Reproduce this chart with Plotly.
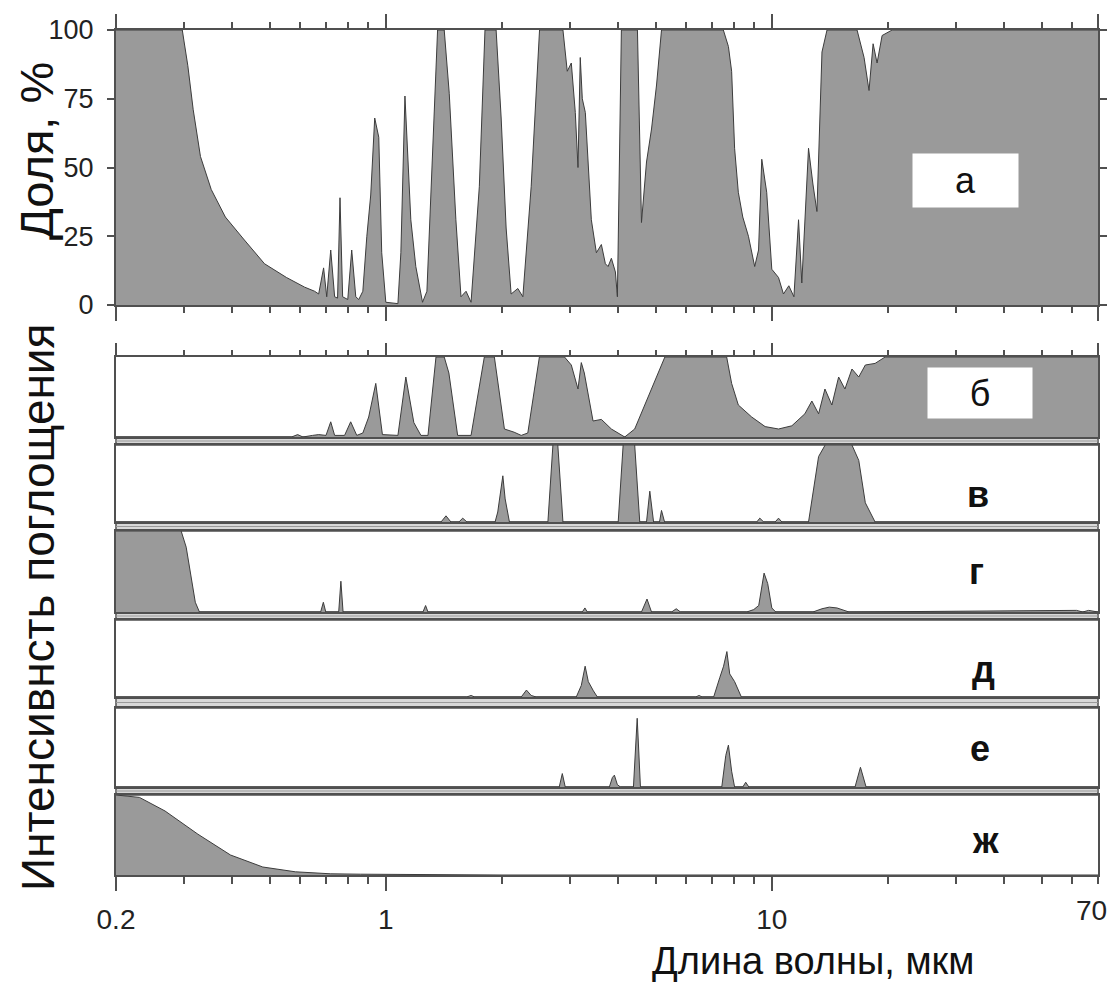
import math
import plotly.graph_objects as go

# ---------------- data (wavelength in micrometres, values in %) ----------------
# (а) total atmospheric absorption, %
wl_a = [0.20, 0.297, 0.300, 0.307, 0.317, 0.331, 0.353, 0.384, 0.428, 0.485, 0.553,
        0.616, 0.654, 0.670, 0.690, 0.703, 0.720, 0.737, 0.750, 0.761, 0.773, 0.797,
        0.816, 0.836, 0.851, 0.872, 0.893, 0.914, 0.936, 0.959, 0.976, 1.0, 1.075,
        1.094, 1.121, 1.161, 1.196, 1.245, 1.278, 1.322, 1.362, 1.417, 1.46, 1.519,
        1.566, 1.614, 1.663, 1.747, 1.807, 1.931, 1.99, 2.05, 2.112, 2.198, 2.265,
        2.38, 2.502, 2.877, 2.952, 3.024, 3.097, 3.147, 3.19, 3.229, 3.288, 3.408,
        3.512, 3.618, 3.706, 3.766, 3.841, 3.934, 3.981, 4.077, 4.487, 4.596, 4.736,
        4.88, 5.028, 5.179, 7.49, 7.72, 7.87, 8.01, 8.19, 8.41, 8.70, 9.03, 9.24,
        9.42, 9.70, 10.0, 10.41, 10.72, 11.07, 11.41, 11.73, 11.96, 12.45, 12.78,
        13.09, 13.49, 13.9, 16.63, 17.34, 17.86, 18.3, 18.74, 19.31, 20.5, 70.0]
val_a = [100, 100, 96, 87, 71, 54, 42, 32, 24, 15, 10,
         6.5, 5, 4, 13.5, 3, 20, 3, 2.5, 39, 3, 2,
         20, 3, 2, 5, 25, 40, 68, 61, 19, 1, 0.5,
         19, 76, 31, 14, 1, 5, 55, 100, 100, 77, 31,
         3, 5, 1, 43, 100, 100, 68, 28, 4, 6, 3,
         43, 100, 100, 85, 88, 70, 50, 90, 75, 70, 31,
         19, 22, 15, 14, 17, 12, 3, 100, 100, 30, 52,
         64, 80, 100, 100, 94, 85, 57, 41, 32, 25, 14, 20,
         53, 41, 13, 10, 4, 7, 3, 31, 8, 57, 44,
         34, 92, 100, 100, 90, 78, 95, 88, 98, 100, 100]

# (б) H2O
wl_b = [0.20, 0.57, 0.591, 0.61, 0.646, 0.670, 0.70, 0.72, 0.737, 0.75, 0.782, 0.811,
        0.841, 0.872, 0.903, 0.942, 0.98, 1.075, 1.127, 1.182, 1.233, 1.286, 1.349,
        1.417, 1.457, 1.535, 1.663, 1.80, 1.911, 2.029, 2.15, 2.243, 2.333, 2.50,
        2.904, 3.024, 3.147, 3.21, 3.268, 3.443, 3.618, 3.841, 4.159, 4.414, 4.783,
        5.078, 5.284, 7.64, 7.87, 8.19, 8.87, 9.61, 10.41, 11.27, 12.18, 12.70,
        13.22, 13.73, 14.31, 14.90, 15.47, 16.13, 16.80, 17.47, 18.52, 19.66, 70.0]
val_b = [0, 0, 3, 0, 2, 3, 2, 19, 2, 2, 2, 19,
         2, 5, 25, 67, 3, 2, 75, 18, 2, 2, 100,
         100, 80, 2, 2, 100, 100, 10, 6, 2, 5, 100,
         100, 90, 60, 93, 80, 20, 22, 10, 0, 10, 50,
         80, 100, 100, 67, 40, 25, 13, 10, 14, 29, 45,
         29, 60, 40, 75, 60, 85, 75, 90, 92, 100, 100]

# (в) CO2
wl_c = [0.20, 1.39, 1.432, 1.475, 1.547, 1.582, 1.623, 1.919, 1.95, 2.01, 2.038,
        2.091, 2.63, 2.71, 2.79, 2.877, 4.0, 4.12, 4.414, 4.549, 4.736, 4.83, 4.94,
        5.118, 5.179, 5.275, 9.14, 9.31, 9.53, 10.2, 10.41, 10.62, 12.45, 13.22,
        13.75, 16.13, 16.80, 17.47, 18.52, 70.0]
val_c = [0, 0, 8, 0, 0, 5, 0, 0, 13, 60, 30,
         0, 0, 100, 100, 0, 0, 100, 100, 0, 0, 40, 0,
         0, 15, 0, 0, 5, 0, 0, 5, 0, 0, 85,
         100, 100, 80, 25, 0, 0]

# (г) O2 and O3
wl_d = [0.20, 0.295, 0.304, 0.313, 0.321, 0.329, 0.678, 0.689, 0.699, 0.755, 0.765,
        0.775, 1.248, 1.268, 1.286, 3.229, 3.28, 3.327, 4.596, 4.75, 4.88, 5.50,
        5.655, 5.80, 8.61, 8.98, 9.25, 9.55, 9.76, 10.0, 10.24, 12.78, 13.49, 14.09,
        14.75, 15.85, 61.6, 63.9, 66.2, 70.0]
val_d = [100, 100, 80, 45, 12, 0, 0, 12, 0, 0, 38,
         0, 0, 8, 0, 0, 5, 0, 0, 16, 0, 0,
         4, 0, 0, 3, 8, 48, 35, 5, 0, 0, 4, 6,
         5, 0, 2, 0, 2, 0]

# (д) CH4
wl_e = [0.20, 1.62, 1.663, 1.70, 2.243, 2.314, 2.38, 2.453, 3.115, 3.21, 3.284,
        3.347, 3.45, 3.533, 6.35, 6.48, 6.60, 7.07, 7.33, 7.50, 7.65, 7.78, 8.01,
        8.34, 70.0]
val_e = [0, 0, 2, 0, 0, 9, 2, 0, 0, 15, 40,
         20, 8, 0, 0, 2, 0, 0, 25, 40, 59, 30, 20,
         0, 0]

# (е) N2O
wl_f = [0.20, 2.814, 2.866, 2.917, 3.795, 3.864, 3.91, 3.98, 4.054, 4.381, 4.48,
        4.568, 7.42, 7.60, 7.72, 7.87, 8.01, 8.41, 8.56, 8.72, 16.43, 16.97, 17.55,
        70.0]
val_f = [0, 0, 17, 0, 0, 12, 15, 3, 0, 0, 87,
         0, 0, 40, 53, 20, 0, 0, 6, 0, 0, 25, 0,
         0]

# (ж) Rayleigh scattering
wl_g = [0.20, 0.23, 0.268, 0.326, 0.396, 0.48, 0.583, 0.72, 0.86, 1.233, 2.0, 70.0]
val_g = [100, 97, 80, 51, 25, 10, 4, 1.5, 1, 0.3, 0, 0]

panel_labels = ["а", "б", "в", "г", "д", "е", "ж"]
major_ticks = [0.2, 1, 10, 70]
major_text = ["0.2", "1", "10", "70"]
minor_ticks = [0.3, 0.4, 0.5, 0.6, 0.7, 0.8, 0.9, 2, 3, 4, 5, 6, 7, 8, 9,
               20, 30, 40, 50, 60]
y_ticks_a = [0, 25, 50, 75, 100]

# ---------------- layout helpers ----------------
OFF = 8                      # body margin of the html page
W, H = 1118 - 2 * OFF, 993 - 2 * OFF + 1   # figure fits the window without scrollbars
def px(x):
    return (x - OFF) / W
def py(y):
    return 1 - (y - OFF) / H

X_DOM = [px(116), px(1098)]
XR = [math.log10(0.2), math.log10(70)]
FILL = "#9a9a9a"
LINE = "#3c3c3c"
AX = "#505050"
FONT = "Liberation Sans, Arial"
TICK_SIZE = 28

# pixel extents (top, bottom) of every panel
rows = [(30, 305), (357, 437), (445, 522), (531, 612), (620, 697), (708, 787), (795, 875)]
series = [(wl_a, val_a), (wl_b, val_b), (wl_c, val_c), (wl_d, val_d),
          (wl_e, val_e), (wl_f, val_f), (wl_g, val_g)]

fig = go.Figure()
for i, (wl, vals) in enumerate(series):
    n = "" if i == 0 else str(i + 1)
    fig.add_trace(go.Scatter(x=wl, y=vals, xaxis="x" + n, yaxis="y" + n,
                             mode="lines", fill="tozeroy", fillcolor=FILL,
                             line=dict(color=LINE, width=1), hoverinfo="x+y",
                             showlegend=False))

layout = dict(width=W, height=H, autosize=False,
              margin=dict(l=0, r=0, t=0, b=0, pad=0, autoexpand=False),
              paper_bgcolor="white", plot_bgcolor="white",
              font=dict(family=FONT, color="#111"))

for i, (top, bot) in enumerate(rows):
    n = "" if i == 0 else str(i + 1)
    xa = dict(type="log", range=XR, domain=X_DOM, anchor="y" + n, automargin=False,
              showgrid=False, zeroline=False, showline=True, linecolor=AX,
              linewidth=2, mirror=True, ticks="", showticklabels=False,
              tickvals=major_ticks, ticktext=major_text)
    ya = dict(range=[0, 100], domain=[py(bot), py(top)], anchor="x" + n,
              automargin=False,
              showgrid=False, zeroline=False, showline=True, linecolor=AX,
              linewidth=2, mirror=True, ticks="", showticklabels=False)
    if i == 0:
        xa.update(ticks="outside", mirror="allticks", ticklen=14, tickwidth=2,
                  tickcolor=AX,
                  minor=dict(tickvals=minor_ticks, ticks="outside", ticklen=6,
                             tickwidth=2, tickcolor=AX))
        ya.update(ticks="outside", mirror="allticks", ticklen=7, tickwidth=2,
                  tickcolor=AX, tickvals=y_ticks_a, showticklabels=True,
                  ticklabelstandoff=8,
                  tickfont=dict(size=27, family=FONT, color="#222"))
    elif i == 1:
        xa.update(side="top", ticks="outside", ticklen=12, tickwidth=2, tickcolor=AX,
                  minor=dict(tickvals=minor_ticks, ticks="outside", ticklen=5,
                             tickwidth=2, tickcolor=AX))
    elif i == 6:
        xa.update(ticks="outside", ticklen=14, tickwidth=2, tickcolor=AX,
                  showticklabels=True, ticklabelstandoff=4,
                  tickvals=major_ticks[:-1], ticktext=major_text[:-1],
                  tickfont=dict(size=TICK_SIZE, family=FONT, color="#222"),
                  minor=dict(tickvals=minor_ticks + major_ticks[-1:], ticks="outside",
                             ticklen=7, tickwidth=2, tickcolor=AX))
    layout["xaxis" + n] = xa
    layout["yaxis" + n] = ya

# light grey separator strips between the lower panels
shapes = []
for (t1, b1), (t2, b2) in zip(rows[1:-1], rows[2:]):
    shapes.append(dict(type="rect", xref="paper", yref="paper",
                       x0=X_DOM[0], x1=X_DOM[1], y0=py(t2), y1=py(b1),
                       fillcolor="#d8d8d8", line=dict(color=AX, width=1.5),
                       layer="below"))
    mid = (b1 + t2) / 2
    shapes.append(dict(type="line", xref="paper", yref="paper",
                       x0=X_DOM[0], x1=X_DOM[1], y0=py(mid), y1=py(mid),
                       line=dict(color="#9a9a9a", width=1)))
layout["shapes"] = shapes

def note(text, x, y, size, **kw):
    d = dict(text=text, xref="paper", yref="paper", x=px(x), y=py(y),
             xanchor="center", yanchor="middle", showarrow=False,
             font=dict(size=size, family=FONT, color="#111"))
    d.update(kw)
    return d

ann = []
# last bottom tick label, kept inside the page edge
ann.append(dict(text=major_text[-1], xref="x7", yref="paper", x=math.log10(major_ticks[-1]),
                y=py(910), xanchor="right", yanchor="middle", xshift=11,
                showarrow=False, font=dict(size=TICK_SIZE, family=FONT, color="#222")))
# boxed labels а and б
ann.append(note("а", 965, 180, 36, bgcolor="white", width=103, height=51))
ann.append(note("б", 980, 393, 36, bgcolor="white", width=102, height=48))
label_pos = [(978, 494), (976, 571), (983, 669), (980, 748), (985, 840)]
for lab, (lx, ly) in zip(panel_labels[2:], label_pos):
    ann.append(note("<b>%s</b>" % lab, lx, ly, 36))
# axis titles
ann.append(note("Доля, %", 36, 151, 47, textangle=-90))
ann.append(note("Интенсивнсть поглощения", 38, 608, 46, textangle=-90))
ann.append(note("Длина волны, мкм", 813, 961, 38))
layout["annotations"] = ann

fig.update_layout(**layout)
fig.write_html("out.html")
